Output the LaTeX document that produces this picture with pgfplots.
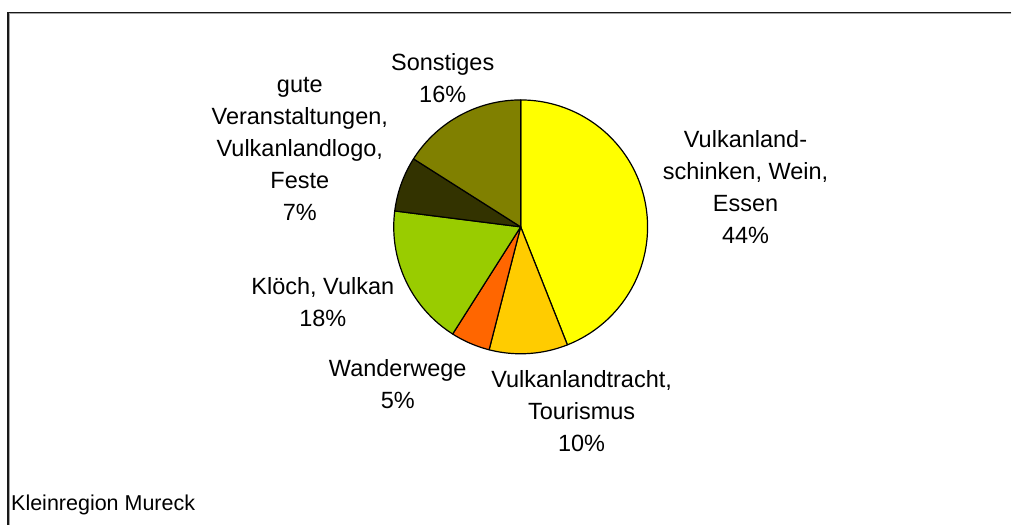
\documentclass[border=0pt]{standalone}
\usepackage{fontspec}
\setmainfont{Liberation Sans}
\usepackage{pgfplots}
\pgfplotsset{compat=1.18}

\definecolor{pieA}{HTML}{FFFF00}
\definecolor{pieB}{HTML}{FFCC00}
\definecolor{pieC}{HTML}{FF6600}
\definecolor{pieD}{HTML}{99CC00}
\definecolor{pieE}{HTML}{333300}
\definecolor{pieF}{HTML}{808000}

% pie centre and radius in canvas units (1 unit = 1pt)
\def\cx{521}
\def\cy{298}
\def\rad{127}

\tikzset{lbl/.style={font=\fontsize{23.5}{32}\selectfont, align=center, inner sep=0pt}}

\begin{document}
\begin{tikzpicture}
\begin{axis}[
  scale only axis, width=1012pt, height=525pt,
  xmin=0, xmax=1012, ymin=0, ymax=525,
  hide axis, clip=false,
]
% full canvas
\path (axis cs:0,0) rectangle (axis cs:1012,525);
% frame of the chart area
\draw[line width=1.3pt, black!90] (axis cs:1012,512.5) -- (axis cs:8,512.5) -- (axis cs:8,0);
\draw[line width=0.8pt, black!35] (axis cs:1012,511.4) -- (axis cs:9.1,511.4) -- (axis cs:9.1,0);

% slices, clockwise from 12 o'clock; share in percent / colour
\gdef\cum{0}
\foreach \share/\col in {44/pieA, 10/pieB, 5/pieC, 18/pieD, 7/pieE, 16/pieF}{%
  \pgfmathsetmacro\aStart{90-3.6*\cum}%
  \pgfmathsetmacro\newcum{\cum+\share}%
  \xdef\cum{\newcum}%
  \pgfmathsetmacro\aEnd{90-3.6*\cum}%
  \edef\next{\noexpand\addplot[fill=\col, draw=black, line width=1.2pt, line join=round,
      domain=\aEnd:\aStart, samples=90, variable=\noexpand\t]
    ({\cx+\rad*cos(\noexpand\t)}, {\cy+\rad*sin(\noexpand\t)}) -- (axis cs:\cx,\cy) -- cycle;}%
  \next
}

% data labels
\node[lbl] at (axis cs:746,338) {Vulkanland-\\schinken, Wein,\\Essen\\44\%};
\node[lbl] at (axis cs:582,114) {Vulkanlandtracht,\\Tourismus\\10\%};
\node[lbl] at (axis cs:398,141) {Wanderwege\\5\%};
\node[lbl] at (axis cs:323,223) {Klöch, Vulkan\\18\%};
\node[lbl] at (axis cs:300,376) {gute\\Veranstaltungen,\\Vulkanlandlogo,\\Feste\\7\%};
\node[lbl] at (axis cs:443,447) {Sonstiges\\16\%};

\node[lbl, anchor=west, font=\fontsize{21.5}{26}\selectfont] at (axis cs:11,20) {Kleinregion Mureck};
\end{axis}
\end{tikzpicture}
\end{document}
